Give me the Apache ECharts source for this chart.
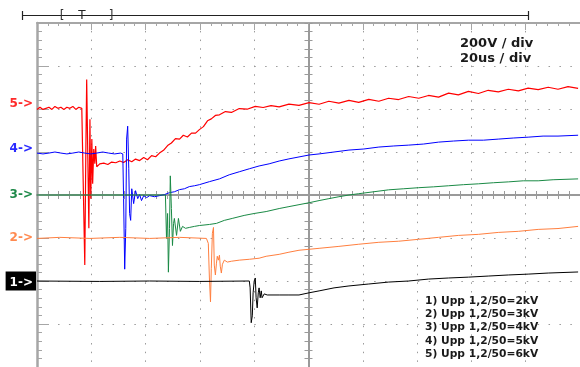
<!DOCTYPE html>
<html><head><meta charset="utf-8">
<script src="https://cdn.jsdelivr.net/npm/echarts@6/dist/echarts.min.js"></script>
<style>html,body{margin:0;padding:0;background:#fff}#c{width:580px;height:367px}</style>
</head><body><div id="c"></div>
<script>
// time in µs relative to screen centre, voltage in V relative to each channel's reference level
const ch1Time = [-100,-76.9,-58.5,-40.2,-21.8,-21.5,-21.1,-20.7,-20.4,-20.0,-19.6,-19.3,-18.9,-18.5,-18.2,-17.8,-17.4,-17.1,-16.3,-15.2,-10.8,-7.2,-3.5,0.2,3.9,9.4,14.9,22.2,29.5,36.9,44.2,51.6,58.9,66.2,73.6,80.9,88.3,99.3];
const ch1Volts = [0,-2,0,-2,0,-32,-194,-162,-55,0,14,-78,-125,-55,-32,-78,-46,-78,-60,-65,-65,-65,-65,-55,-46,-32,-23,-14,-5,0,9,14,18,23,28,32,37,42];

const ch2Time = [-100,-91.6,-80.5,-69.5,-58.5,-47.5,-37.6,-36.9,-36.5,-36.1,-35.8,-35.4,-35.0,-34.7,-34.3,-33.9,-33.6,-33.2,-32.8,-32.5,-32.1,-31.7,-31.0,-29.9,-28.4,-25.5,-21.8,-18.2,-15.6,-10.8,-7.2,-3.5,3.9,11.2,18.5,25.9,33.2,40.6,47.9,55.2,62.6,69.9,77.3,84.6,91.9,99.3];
const ch2Volts = [-2,3,-2,3,-2,3,-2,-25,-186,-297,-141,22,49,-126,-172,-117,-85,-103,-80,-131,-163,-122,-103,-112,-108,-103,-99,-94,-85,-76,-66,-57,-48,-39,-29,-20,-15,-6,3,12,17,26,31,40,44,54];

const ch3Time = [-100,-52.7,-52.3,-51.9,-51.6,-51.2,-50.9,-50.5,-50.1,-49.7,-49.4,-48.6,-47.9,-47.2,-46.4,-45.3,-43.9,-42.0,-40.2,-36.5,-33.9,-31.0,-28.1,-23.7,-20.0,-15.6,-10.8,-7.2,-3.5,0.2,3.9,7.5,11.2,14.9,18.5,24.0,29.5,35.1,40.6,46.1,51.6,57.1,62.6,68.1,73.6,79.1,84.6,90.1,99.3];
const ch3Volts = [0,0,-202,-86,-359,-156,89,-63,-235,-132,-109,-188,-109,-169,-146,-155,-151,-146,-142,-137,-132,-118,-109,-95,-86,-77,-63,-54,-45,-36,-26,-17,-8,0,6,15,24,29,34,38,43,48,52,57,61,66,66,71,75];

const ch4Time = [-100,-97.8,-95.6,-93.4,-91.2,-89.0,-86.8,-84.6,-82.4,-80.2,-78.0,-75.8,-73.6,-71.4,-69.2,-68.4,
  -68.1,-67.7,-67.3,-67.0,-66.6,-66.2,-65.9,-65.5,-65.1,-64.8,-64.4,-64.0,-63.7,-62.9,-62.2,-61.5,-60.7,-59.6,-58.5,-56.7,-54.9,-53.0,-51.2,-49.4,-47.5,-45.7,-43.9,-42.0,-40.2,
  -36.5,-32.8,-29.2,-25.5,-21.8,-18.2,-14.5,-10.8,-7.2,-3.5,0.2,3.9,9.4,14.9,20.4,25.9,31.4,36.9,42.4,47.9,53.4,58.9,64.4,69.9,75.4,80.9,86.4,91.9,99.3];
const ch4Volts = [-5,-9,-5,0,-5,-9,-5,0,-5,-9,-5,0,-5,-9,-5,-9,
  -217,-545,-355,60,120,-78,-286,-318,-171,-162,-240,-231,-180,-217,-198,-226,-203,-212,-203,-208,-203,-198,-189,-185,-175,-171,-161,-157,-152,
  -138,-125,-106,-92,-78,-65,-55,-42,-32,-23,-14,-9,0,9,14,23,28,32,37,46,51,55,55,60,65,69,74,74,78];

const ch5Time = [-100,-98.9,-97.8,-96.7,-95.6,-94.5,-93.4,-92.3,-91.2,-90.1,-89.0,-87.9,-86.8,-85.7,-84.6,-83.5,-82.8,
  -82.4,-82.0,-81.7,-81.3,-80.9,-80.5,-80.2,-79.8,-79.5,-79.1,-78.7,-78.4,-78.0,-77.3,-76.9,
  -75.4,-73.9,-72.5,-71.0,-69.5,-68.1,-66.6,-65.1,-63.7,-62.2,-60.7,-59.3,-57.8,-56.3,-54.9,-53.4,-51.9,-50.5,-49.0,-47.5,-46.1,-44.6,-43.1,-41.6,-40.2,-38.7,-37.2,-35.8,-34.3,-32.8,
  -30.6,-28.4,-25.5,-22.6,-19.6,-16.7,-13.8,-10.8,-7.2,-3.5,
  0.2,3.9,7.5,11.2,14.9,18.5,22.2,25.9,29.5,33.2,36.9,40.6,44.2,47.9,51.6,55.2,58.9,62.6,66.2,69.9,73.6,77.3,80.9,84.6,88.3,91.9,95.6,99.3];
const ch5Volts = [-2,8,-2,3,8,-2,12,3,8,-2,8,3,12,-2,8,3,-2,
  -726,-186,137,128,-555,-48,-417,-140,-348,-186,-255,-172,-269,-278,-255,
  -252,-258,-247,-250,-242,-249,-236,-245,-233,-240,-226,-236,-217,-222,-205,-192,-170,-158,-138,-140,-122,-130,-112,-112,-96,-82,-55,-46,-30,-27,
  -12,-16,2,-1,12,7,16,10,23,17,
  30,22,36,27,40,31,45,36,50,44,58,50,63,55,74,66,82,72,87,80,92,84,97,90,101,92,104,96];

const channelNames = ['1->','2->','3->','4->','5->'];
const channelOffsets = [-400,-200,0,200,400];
const channelColors = ['#000000','#ff7f3f','#1a8a45','#0000ff','#ff0000'];
const legendLines = ['1) Upp 1,2/50=2kV','2) Upp 1,2/50=3kV','3) Upp 1,2/50=4kV','4) Upp 1,2/50=5kV','5) Upp 1,2/50=6kV'];
const scaleTexts = ['200V / div','20us / div'];

const times = [ch1Time, ch2Time, ch3Time, ch4Time, ch5Time];
const volts = [ch1Volts, ch2Volts, ch3Volts, ch4Volts, ch5Volts];

const series = times.map((tArr, i) => ({
  type: 'line',
  xAxisIndex: 0, yAxisIndex: 0,
  showSymbol: false,
  animation: false,
  z: 3 + (4 - i),
  lineStyle: { color: channelColors[i], width: i === 4 ? 1.2 : 1 },
  data: tArr.map((t, k) => [t, channelOffsets[i] + volts[i][k]])
}));

const gridColor = '#a6a6a6';
const dotColor = '#9a9a9a';
const crossColor = '#9a9a9a';

const rich = {
  c5: { color: '#ff2a2a', fontWeight: 'bold', fontSize: 12, fontFamily: 'DejaVu Sans', padding: [0, 3, 11, 0] },
  c4: { color: '#2a2aff', fontWeight: 'bold', fontSize: 12, fontFamily: 'DejaVu Sans', padding: [0, 3, 6, 0] },
  c3: { color: '#1f8a4a', fontWeight: 'bold', fontSize: 12, fontFamily: 'DejaVu Sans', padding: [0, 3, 0, 0] },
  c2: { color: '#ff8a50', fontWeight: 'bold', fontSize: 12, fontFamily: 'DejaVu Sans', padding: [0, 3, 0, 0] },
  c1: { color: '#ffffff', backgroundColor: '#000000', fontWeight: 'bold', fontSize: 12, fontFamily: 'DejaVu Sans', padding: [5, 3, 2, 4] }
};

const xCommon = { type: 'value', min: -100, max: 100, interval: 20, axisLabel: { show: false } };
const yCommon = { type: 'value', min: -800, max: 800, interval: 200 };

const option = {
  animation: false,
  backgroundColor: '#ffffff',
  grid: { left: 37, top: 23, width: 545, height: 346.7, containLabel: false },
  xAxis: [
    Object.assign({}, xCommon, {
      position: 'top',
      axisLine: { show: true, onZero: false, lineStyle: { color: gridColor, width: 2 } },
      axisTick: { show: true, inside: true, length: 7, lineStyle: { color: gridColor, width: 1 } },
      minorTick: { show: true, splitNumber: 5, length: 3, lineStyle: { color: gridColor, width: 1 } },
      splitLine: { show: true, lineStyle: { color: dotColor, width: 1, type: [1.5, 7.17], dashOffset: 0.75 } }
    }),
    Object.assign({}, xCommon, {
      position: 'bottom',
      axisLine: { show: true, onZero: true, onZeroAxisIndex: 0, lineStyle: { color: crossColor, width: 2 } },
      axisTick: { show: true, inside: true, length: 4, lineStyle: { color: crossColor, width: 1 } },
      minorTick: { show: true, splitNumber: 5, length: 4, lineStyle: { color: crossColor, width: 1 } },
      splitLine: { show: false }
    }),
    Object.assign({}, xCommon, {
      position: 'top',
      axisLine: { show: true, onZero: true, onZeroAxisIndex: 0, lineStyle: { color: crossColor, width: 2 } },
      axisTick: { show: true, inside: true, length: 4, lineStyle: { color: crossColor, width: 1 } },
      minorTick: { show: true, splitNumber: 5, length: 4, lineStyle: { color: crossColor, width: 1 } },
      splitLine: { show: false }
    })
  ],
  yAxis: [
    Object.assign({}, yCommon, {
      position: 'left',
      axisLine: { show: true, onZero: false, lineStyle: { color: gridColor, width: 2.5 } },
      axisTick: { show: true, inside: true, length: 12, lineStyle: { color: gridColor, width: 1 } },
      minorTick: { show: true, splitNumber: 5, length: 5, lineStyle: { color: gridColor, width: 1 } },
      splitLine: { show: true, lineStyle: { color: dotColor, width: 1, type: [1.5, 9.4], dashOffset: 0.75 } },
      axisLabel: {
        show: true, margin: 1, showMinLabel: true, showMaxLabel: true,
        formatter: function (v) {
          const i = channelOffsets.indexOf(v);
          return i >= 0 ? '{c' + (i + 1) + '|' + channelNames[i] + '}' : '';
        },
        rich: rich
      }
    }),
    Object.assign({}, yCommon, {
      position: 'left',
      axisLine: { show: true, onZero: true, onZeroAxisIndex: 0, lineStyle: { color: crossColor, width: 2 } },
      axisTick: { show: true, inside: true, length: 4, lineStyle: { color: crossColor, width: 1 } },
      minorTick: { show: true, splitNumber: 5, length: 4, lineStyle: { color: crossColor, width: 1 } },
      axisLabel: { show: false },
      splitLine: { show: false }
    }),
    Object.assign({}, yCommon, {
      position: 'right',
      axisLine: { show: true, onZero: true, onZeroAxisIndex: 0, lineStyle: { color: crossColor, width: 2 } },
      axisTick: { show: true, inside: true, length: 4, lineStyle: { color: crossColor, width: 1 } },
      minorTick: { show: true, splitNumber: 5, length: 4, lineStyle: { color: crossColor, width: 1 } },
      axisLabel: { show: false },
      splitLine: { show: false }
    })
  ],
  graphic: [
    { type: 'line', z: 10, shape: { x1: 22, y1: 15.5, x2: 528, y2: 15.5 }, style: { stroke: '#222', lineWidth: 1.2 } },
    { type: 'line', z: 10, shape: { x1: 22.5, y1: 11, x2: 22.5, y2: 20 }, style: { stroke: '#222', lineWidth: 1.2 } },
    { type: 'line', z: 10, shape: { x1: 528.5, y1: 11, x2: 528.5, y2: 20 }, style: { stroke: '#222', lineWidth: 1.2 } },
    { type: 'text', z: 10, x: 62, y: 16, style: { text: '[', fill: '#333', font: '12px DejaVu Sans', align: 'center', verticalAlign: 'middle', textAlign: 'center', textVerticalAlign: 'middle' } },
    { type: 'text', z: 10, x: 82, y: 16, style: { text: 'T', fill: '#222', font: '12px DejaVu Sans', align: 'center', verticalAlign: 'middle', textAlign: 'center', textVerticalAlign: 'middle' } },
    { type: 'text', z: 10, x: 111, y: 16, style: { text: ']', fill: '#333', font: '12px DejaVu Sans', align: 'center', verticalAlign: 'middle', textAlign: 'center', textVerticalAlign: 'middle' } }
  ].concat(scaleTexts.map((s, i) => ({
    type: 'text', z: 10, x: 460, y: 44 + i * 15,
    style: { text: s, fill: '#1a1a1a', font: 'bold 13px DejaVu Sans', align: 'left', verticalAlign: 'middle', textAlign: 'left', textVerticalAlign: 'middle' }
  }))).concat(legendLines.map((s, i) => ({
    type: 'text', z: 10, x: 425, y: 301 + i * 13.3,
    style: { text: s, fill: '#1a1a1a', font: 'bold 10.7px DejaVu Sans', align: 'left', verticalAlign: 'middle', textAlign: 'left', textVerticalAlign: 'middle' }
  }))),
  series: series
};

const chart = echarts.init(document.getElementById('c'), null, { renderer: 'canvas' });
chart.setOption(option);
</script>
</body></html>
